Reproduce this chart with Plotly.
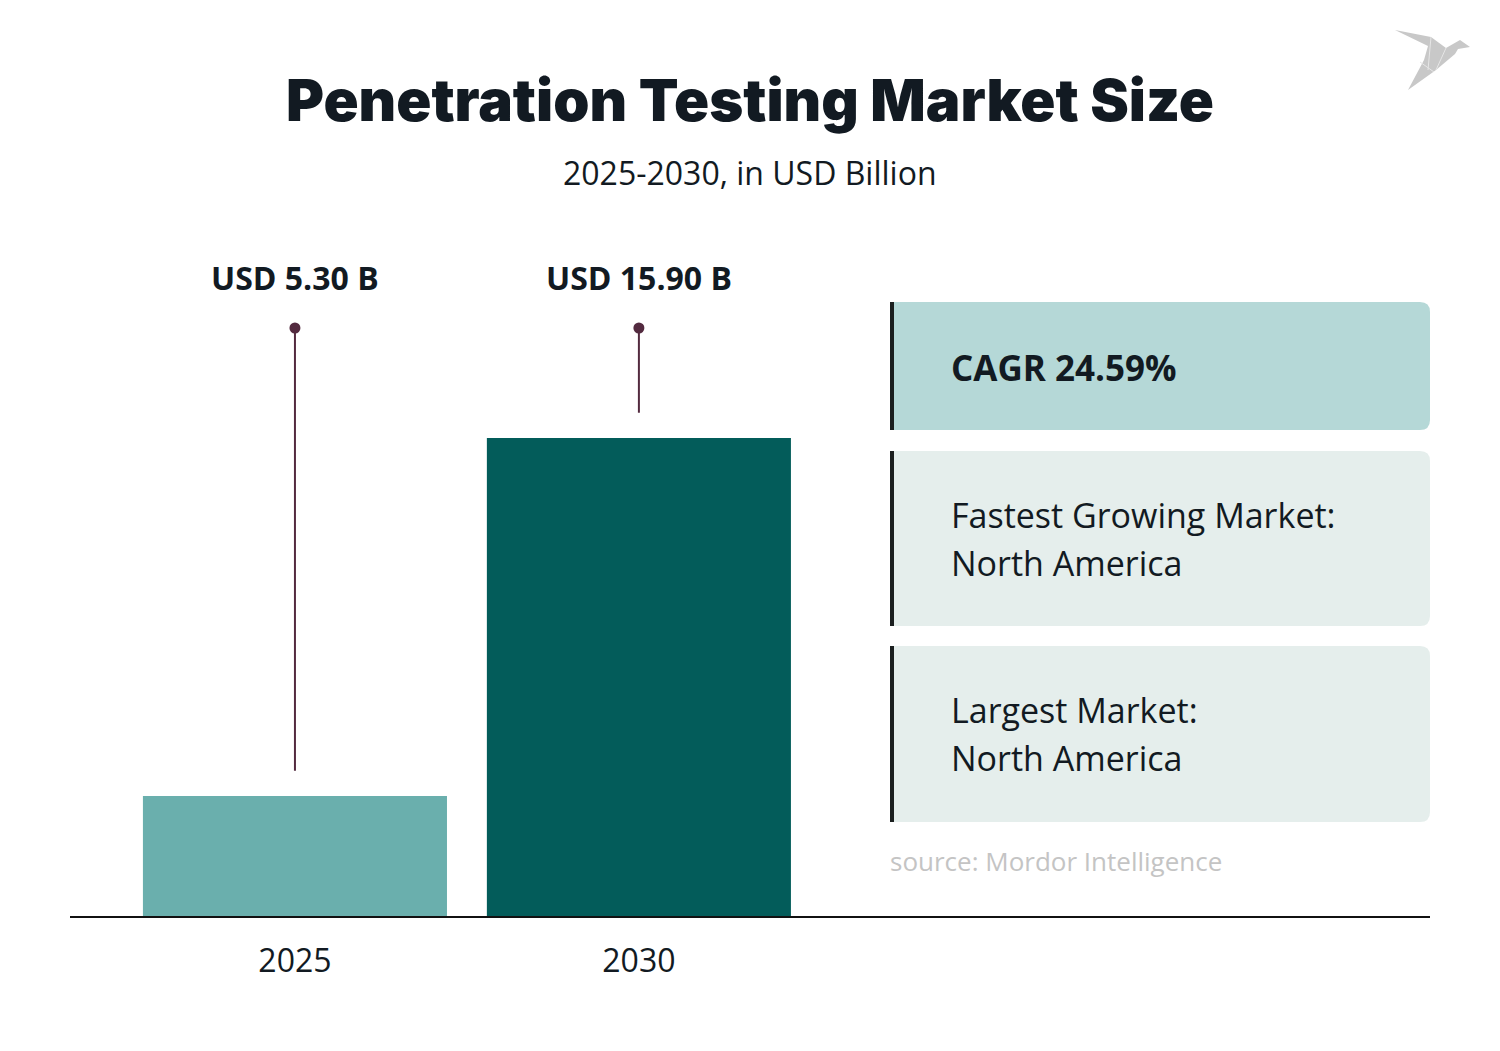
import plotly.graph_objects as go

# ---- data ----
years = ["2025", "2030"]
values = [5.30, 15.90]
value_labels = ["USD 5.30 B", "USD 15.90 B"]
bar_colors = ["#6aafad", "#035c5a"]
title_text = "Penetration Testing Market Size"
subtitle_text = "2025-2030, in USD Billion"
cagr_lines = ["CAGR 24.59%"]
fastest_lines = ["Fastest Growing Market:", "North America"]
largest_lines = ["Largest Market:", "North America"]
source_text = "source: Mordor Intelligence"

W, H = 1500, 1051
ML, MR, MT, MB = 70, 70, 250, 135
PW, PH = W - ML - MR, H - MT - MB
Y0, Y1 = 1.745, 21.47          # visible value range of the y axis
X0, X1 = -0.654, 3.30
LABEL_Y = 20.67                 # level of the value labels
DOT_Y = 19.16                   # level of the lollipop dots
GAP = 0.75                      # gap between bar top and lollipop line

def px_x(px):
    return (px - ML) / PW

def px_y(py):
    return (H - MB - py) / PH

INK = "#121a22"
STEM = "#532a3f"

fig = go.Figure()
fig.add_trace(go.Bar(
    x=years, y=values, marker=dict(color=bar_colors, line=dict(width=0)),
    width=0.884, hoverinfo="skip", showlegend=False))

# lollipop stems
for yr, v in zip(years, values):
    fig.add_trace(go.Scatter(
        x=[yr, yr], y=[v + GAP, DOT_Y], mode="lines",
        line=dict(color=STEM, width=2), showlegend=False, hoverinfo="skip"))
fig.add_trace(go.Scatter(
    x=years, y=[DOT_Y] * len(years), mode="markers",
    marker=dict(color=STEM, size=11), showlegend=False, hoverinfo="skip",
    cliponaxis=False))

annotations = []
for i, lab in enumerate(value_labels):
    annotations.append(dict(
        x=i, y=LABEL_Y, xref="x", yref="y", text=lab, showarrow=False,
        font=dict(family="Open Sans", size=32, color=INK, weight=700),
        xanchor="center", yanchor="middle"))

# title and subtitle
annotations.append(dict(
    x=0.5, y=px_y(100), xref="paper", yref="paper", text=title_text,
    showarrow=False, font=dict(family="Inter", size=58, color=INK, weight=900),
    xanchor="center", yanchor="middle"))
annotations.append(dict(
    x=0.5, y=px_y(172), xref="paper", yref="paper", text=subtitle_text,
    showarrow=False, font=dict(family="Open Sans", size=32, color=INK),
    xanchor="center", yanchor="middle"))

shapes = []

def rounded_box(x0, y0, x1, y1, color, r=10):
    rx = r / PW
    ry = r / PH
    X0p, X1p = px_x(x0), px_x(x1)
    Yt, Yb = px_y(y0), px_y(y1)
    path = (f"M {X0p},{Yt} L {X1p - rx},{Yt} Q {X1p},{Yt} {X1p},{Yt - ry} "
            f"L {X1p},{Yb + ry} Q {X1p},{Yb} {X1p - rx},{Yb} L {X0p},{Yb} Z")
    shapes.append(dict(type="path", path=path, xref="paper", yref="paper",
                       fillcolor=color, line=dict(width=0), layer="below"))
    shapes.append(dict(type="rect", xref="paper", yref="paper",
                       x0=px_x(x0), x1=px_x(x0 + 4), y0=Yb, y1=Yt,
                       fillcolor="#1b1f1f", line=dict(width=0)))

LINE_STEP = 48
boxes = [
    (302, 430, "#b5d8d7", cagr_lines, 700, 35),
    (451, 626, "#e5eeec", fastest_lines, 400, 34),
    (646, 822, "#e5eeec", largest_lines, 400, 34),
]
for top, bot, col, lines, wt, sz in boxes:
    rounded_box(890, top, 1430, bot, col)
    mid = (top + bot) / 2
    n = len(lines)
    for k, line in enumerate(lines):
        yc = mid + (k - (n - 1) / 2) * LINE_STEP + (0 if n > 1 else 1)
        annotations.append(dict(
            x=px_x(949), y=px_y(yc), xref="paper", yref="paper",
            text=line, showarrow=False, align="left",
            font=dict(family="Open Sans", size=sz, color=INK, weight=wt),
            xanchor="left", yanchor="middle"))

annotations.append(dict(
    x=px_x(888), y=px_y(861), xref="paper", yref="paper", text=source_text,
    showarrow=False, font=dict(family="Open Sans", size=26, color="#c4c4c4"),
    xanchor="left", yanchor="middle"))

# logo (origami bird)
bird = [(1395, 30), (1431, 37), (1446, 48), (1460, 40), (1470, 47),
        (1458, 49), (1455, 54), (1436, 70), (1408, 90), (1424, 60),
        (1428, 46)]
path = "M " + " L ".join(f"{px_x(x)},{px_y(y)}" for x, y in bird) + " Z"
shapes.append(dict(type="path", path=path, xref="paper", yref="paper",
                   fillcolor="#c8c8c8", line=dict(width=0)))
for (a, b) in [((1431, 37), (1428, 70)), ((1446, 48), (1436, 70)), ((1420, 62), (1434, 72))]:
    shapes.append(dict(type="line", xref="paper", yref="paper",
                       x0=px_x(a[0]), y0=px_y(a[1]), x1=px_x(b[0]), y1=px_y(b[1]),
                       line=dict(color="#e6e6e6", width=1)))

fig.update_layout(
    width=W, height=H,
    margin=dict(l=ML, r=MR, t=MT, b=MB, autoexpand=False),
    paper_bgcolor="white", plot_bgcolor="white",
    annotations=annotations, shapes=shapes,
    xaxis=dict(type="category", range=[X0, X1], showgrid=False, zeroline=False,
               showline=True, linecolor="#111111", linewidth=2,
               ticks="", ticklabelstandoff=16,
               tickfont=dict(family="Open Sans", size=32, color=INK),
               fixedrange=True),
    yaxis=dict(range=[Y0, Y1], visible=False, showgrid=False, zeroline=False,
               fixedrange=True),
)

fig.write_html("out.html", config={"displayModeBar": False},
               post_script="document.body.style.margin='0';")
